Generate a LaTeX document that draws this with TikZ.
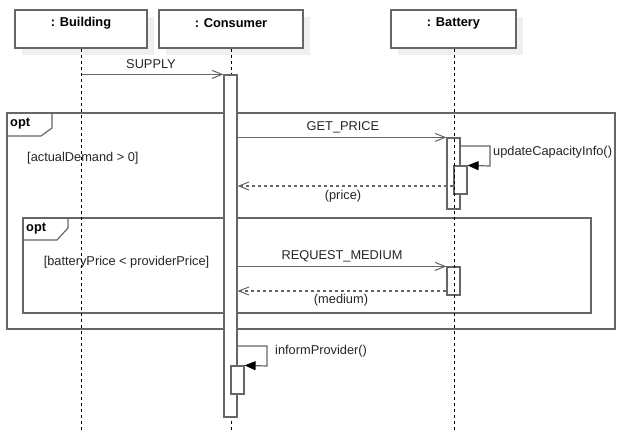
\documentclass[tikz,border=0pt]{standalone}
\usepackage{fontspec}
\setmainfont{Liberation Sans}
\usetikzlibrary{arrows.meta,calc}
\definecolor{ln}{HTML}{666666}
\definecolor{shd}{HTML}{F0F0F0}
\begin{document}
\begin{tikzpicture}[x=1pt,y=-1pt,
  objbox/.style={draw=ln, line width=1.2pt, fill=white, minimum height=38pt, inner sep=0pt},
  title/.style={font=\fontsize{12.8}{15}\selectfont\bfseries, inner sep=0pt},
  lbl/.style={font=\fontsize{12.8}{15}\selectfont, inner sep=0pt, text=black!85},
  life/.style={draw=black, line width=0.9pt, dash pattern=on 3pt off 3pt},
  actbox/.style={draw=ln, line width=1.2pt, fill=white, minimum width=13pt, inner sep=0pt},
  frame/.style={draw=ln, line width=1.2pt, inner sep=0pt},
  msg/.style={draw=ln, line width=1.2pt, -{Straight Barb[length=10pt,width=8pt,line width=1pt]}},
  ret/.style={draw=ln, line width=1.2pt, dash pattern=on 3pt off 3pt, -{Straight Barb[length=10pt,width=8pt,line width=1pt]}},
  selfmsg/.style={draw=ln, line width=1.2pt, -{Triangle[length=11pt,width=9pt,color=black]}},
]
\useasboundingbox (0,0) rectangle (622,443);
\fill[white] (0,0) rectangle (622,443);

% shadows
\fill[shd] (22,17) rectangle (154,55);
\fill[shd] (166,17) rectangle (310,55);
\fill[shd] (398,17) rectangle (523,55);

% object boxes
\node[objbox, minimum width=132pt] (bld) at (81,29) {};
\node[objbox, minimum width=144pt] (con) at (231,29) {};
\node[objbox, minimum width=125pt] (bat) at (453.5,29) {};
\node[title] (bldT) at (81,23) {: Building};
\node[title] (conT) at (231,23) {: Consumer};
\node[title] (batT) at (453.5,23) {: Battery};

% frames
\node[frame, minimum width=608pt, minimum height=216pt] (opt1) at (311,221) {};
\draw[frame] (7,136) -- (41,136) -- (52,128) -- (52,113);
\node[title, anchor=west] (opt1T) at (10,124) {opt};
\node[frame, minimum width=568pt, minimum height=95pt] (opt2) at (307,265.5) {};
\draw[frame] (23,240) -- (57,240) -- (68,228) -- (68,218);
\node[title, anchor=west] (opt2T) at (26,229) {opt};

\node[lbl, anchor=west] (g1) at (27,158) {[actualDemand > 0]};
\node[lbl] (g2) at (126.5,262) {[batteryPrice < providerPrice]};

% lifelines
\coordinate (bldE) at (81.5,430);
\coordinate (conE) at (231,430);
\coordinate (batE) at (454,430);
\draw[life] (bld.south -| bldE) -- (bldE);
\draw[life] (con.south -| conE) -- (conE);

% activations
\node[actbox, minimum height=342pt] (ca) at (230.5,246) {};
\node[actbox, minimum height=28pt] (cn) at (237.5,380) {};
\node[actbox, minimum height=71pt] (ba1) at (453.5,173.5) {};
\node[actbox, minimum height=28pt] (bn) at (460.5,180) {};
\node[actbox, minimum height=28pt] (ba2) at (453.5,281) {};
\draw[life] (bat.south -| batE) -- (batE);

% messages
\draw[msg] (bldE |- ca.north) -- (ca.north west);
\node[lbl] (supL) at (151,64) {SUPPLY};

\draw[msg] (ca.east |- ba1.north) -- (ba1.north west);
\node[lbl] (gpL) at (343,127) {GET\_PRICE};

\draw[selfmsg] (ba1.east |- 0,146) -- (490,146) -- (490,166) -- (bn.north east);
\node[lbl, anchor=west] (ucL) at (493,152) {updateCapacityInfo()};

\draw[ret] (bn.west |- 0,186) -- (ca.east |- 0,186);
\node[lbl] (prL) at (343,196) {(price)};

\draw[msg] (ca.east |- ba2.north) -- (ba2.north west);
\node[lbl] (rmL) at (342,256) {REQUEST\_MEDIUM};

\draw[ret] (ba2.west |- 0,291) -- (ca.east |- 0,291);
\node[lbl] (meL) at (341,300) {(medium)};

\draw[selfmsg] (ca.east |- 0,346) -- (267,346) -- (267,366) -- (cn.north east);
\node[lbl, anchor=west] (ipL) at (275,351) {informProvider()};
\end{tikzpicture}
\end{document}
